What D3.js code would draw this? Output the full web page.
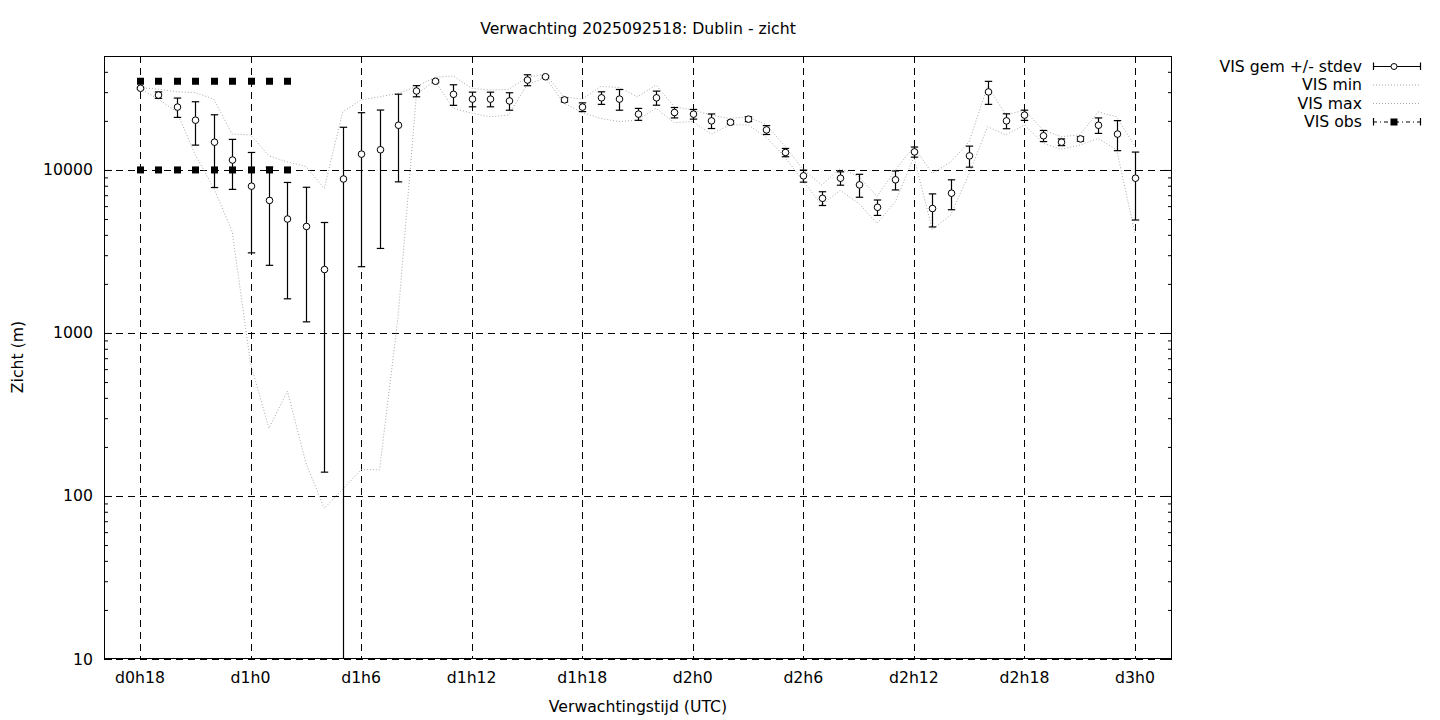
<!DOCTYPE html>
<html><head><meta charset="utf-8">
<script src="https://cdn.jsdelivr.net/npm/d3@7"></script>
<style>body{margin:0;background:#fff}svg{display:block}text{font-family:"DejaVu Sans",sans-serif;fill:#000}</style>
</head><body><svg id="c" width="1440" height="720"></svg>
<script>
const title = "Verwachting 2025092518: Dublin - zicht";
const hours = [18,19,20,21,22,23,24,25,26,27,28,29,30,31,32,33,34,35,36,37,38,39,40,41,42,43,44,45,46,47,48,49,50,51,52,53,54,55,56,57,58,59,60,61,62,63,64,65,66,67,68,69,70,71,72];
const visMean = [31700,28800,24300,20200,14800,11500,7950,6500,5000,4500,2450,8800,12500,13300,18800,30500,35000,29100,27200,27200,26500,35600,37300,26900,24300,27700,27200,22000,27700,22500,22000,20000,19600,20500,17600,12800,9200,6700,8900,8100,5900,8700,12900,5800,7200,12200,30100,20000,21700,16200,14800,15500,18800,16600,8900];
const visStdev = [400,1300,3300,6000,7000,3900,4850,3900,3380,3330,2310,9470,9950,10000,10350,2400,700,4200,2800,2800,3250,2750,600,800,1500,2450,3950,1850,2750,1650,1500,2050,500,700,1100,750,780,650,840,1300,640,1160,920,1330,1500,1800,4850,2100,1560,1270,700,500,2050,3470,3970];
const visMin = [31500,27200,22700,12400,7750,4200,650,260,440,160,84,110,145,145,1240,29000,35300,23900,22300,21200,21700,33200,37000,25700,22500,20700,19800,20200,23900,19500,19800,16600,18900,18900,15800,12000,8500,6100,7500,6250,4700,6400,12000,4300,5300,9500,18400,16400,18900,14600,13400,14200,15600,13300,4100];
const visMax = [32000,31300,30200,29800,27200,16600,16400,12200,11200,10500,7700,22700,26900,28100,29500,32500,37000,37700,31700,30900,31200,37000,38800,28100,27200,32500,32100,28100,33200,24400,23300,21700,20700,21200,18900,14000,10000,8100,10200,9100,6900,10000,13900,9500,11200,14900,32800,21700,23300,17600,16000,16400,22700,21200,13900];
const obsHours = [18,19,20,21,22,23,24,25,26];
const obsUpper = [35000,35000,35000,35000,35000,35000,35000,35000,35000];
const obsLower = [10000,10000,10000,10000,10000,10000,10000,10000,10000];
const xTickHours = [18,24,30,36,42,48,54,60,66,72];
const xTickLabels = ["d0h18","d1h0","d1h6","d1h12","d1h18","d2h0","d2h6","d2h12","d2h18","d3h0"];
const yTickValues = [10,100,1000,10000];
const legendLabels = ["VIS gem +/- stdev","VIS min","VIS max","VIS obs"];

const svg = d3.select("#c");
const L=104, R=1172, T=56, B=659, FS=15.7;
const x = d3.scaleLinear().domain([18,72]).range([140,1135]);
const y = d3.scaleLog().domain([10,50000]).range([B,T]);
const px = h => Math.round(x(h))+0.5;

svg.append("defs").append("clipPath").attr("id","clip").append("rect")
  .attr("x",L).attr("y",T).attr("width",R-L).attr("height",B-T);

// grid
const grid = svg.append("g").attr("stroke","#000").attr("stroke-width",1).attr("stroke-dasharray","7,5");
xTickHours.forEach(h=>grid.append("line").attr("x1",px(h)).attr("x2",px(h)).attr("y1",T).attr("y2",B));
yTickValues.forEach(v=>grid.append("line").attr("x1",L).attr("x2",R).attr("y1",Math.round(y(v))+0.5).attr("y2",Math.round(y(v))+0.5));

// axes (inner ticks)
const minorVals = [];
[10,100,1000,10000].forEach(d=>{for(let k=2;k<=9;k++){const v=d*k; if(v<=50000) minorVals.push(v);}});
const noDomain = g=>g.select(".domain").remove();
svg.append("g").attr("transform",`translate(${L},0)`).call(d3.axisRight(y).tickValues(minorVals).tickSize(4).tickFormat("")).call(noDomain);
svg.append("g").attr("transform",`translate(${R},0)`).call(d3.axisLeft(y).tickValues(minorVals).tickSize(4).tickFormat("")).call(noDomain);
svg.append("g").attr("transform",`translate(${L},0)`).call(d3.axisRight(y).tickValues(yTickValues).tickSize(8).tickFormat("")).call(noDomain);
svg.append("g").attr("transform",`translate(${R},0)`).call(d3.axisLeft(y).tickValues(yTickValues).tickSize(8).tickFormat("")).call(noDomain);

// tick labels
svg.append("g").selectAll("text").data(yTickValues).join("text")
  .attr("x",93).attr("y",d=>y(d)+5.5).attr("text-anchor","end").attr("font-size",FS).text(d=>d);
svg.append("g").selectAll("text").data(xTickHours).join("text")
  .attr("x",d=>x(d)).attr("y",683).attr("text-anchor","middle").attr("font-size",FS).text((d,i)=>xTickLabels[i]);

// frame
svg.append("rect").attr("x",L+0.5).attr("y",T+0.5).attr("width",R-L-1).attr("height",B-T-1)
  .attr("fill","none").attr("stroke","#000").attr("stroke-width",1);

const plot = svg.append("g").attr("clip-path","url(#clip)");
const line = (arr)=>d3.line().x((d,i)=>x(hours[i])).y(d=>y(d))(arr);
plot.append("path").attr("d",line(visMin)).attr("fill","none").attr("stroke","#a8a8a8").attr("stroke-width",1).attr("stroke-dasharray","1,2");
plot.append("path").attr("d",line(visMax)).attr("fill","none").attr("stroke","#a8a8a8").attr("stroke-width",1).attr("stroke-dasharray","1,2");

// error bars
const eb = plot.append("g").attr("stroke","#000").attr("stroke-width",1.2);
hours.forEach((h,i)=>{
  const cx = px(h);
  const hi = visMean[i]+visStdev[i];
  const lo = Math.max(visMean[i]-visStdev[i], 1);
  eb.append("line").attr("x1",cx).attr("x2",cx).attr("y1",y(hi)).attr("y2",y(lo));
  eb.append("line").attr("x1",cx-3.7).attr("x2",cx+3.7).attr("y1",y(hi)).attr("y2",y(hi));
  if (visMean[i]-visStdev[i] > 10) eb.append("line").attr("x1",cx-3.7).attr("x2",cx+3.7).attr("y1",y(lo)).attr("y2",y(lo));
});
plot.append("g").selectAll("circle").data(visMean).join("circle")
  .attr("cx",(d,i)=>px(hours[i])).attr("cy",d=>y(d)).attr("r",3.3)
  .attr("fill","#fff").attr("stroke","#000").attr("stroke-width",1);

// obs
[obsUpper, obsLower].forEach(arr=>{
  plot.append("g").selectAll("rect").data(arr).join("rect")
    .attr("x",(d,i)=>px(obsHours[i])-3.5).attr("y",d=>y(d)-3.5)
    .attr("width",7).attr("height",7).attr("fill","#000");
});

// title & axis labels
svg.append("text").attr("x",638).attr("y",34).attr("text-anchor","middle").attr("font-size",FS).text(title);
svg.append("text").attr("x",638).attr("y",712).attr("text-anchor","middle").attr("font-size",FS).text("Verwachtingstijd (UTC)");
svg.append("text").attr("transform","translate(23,357) rotate(-90)").attr("text-anchor","middle").attr("font-size",FS).text("Zicht (m)");

// legend
const lg = svg.append("g");
const rowsY = [66,84.5,103,121.5];
legendLabels.forEach((t,i)=>{
  lg.append("text").attr("x",1362).attr("y",rowsY[i]+5.5).attr("text-anchor","end").attr("font-size",FS).text(t);
});
const x1=1373, x2=1420, xm=1394;
lg.append("line").attr("x1",x1).attr("x2",x2).attr("y1",rowsY[0]+0.5).attr("y2",rowsY[0]+0.5).attr("stroke","#000").attr("stroke-width",1.2);
[x1,x2].forEach(xx=>lg.append("line").attr("x1",xx+0.5).attr("x2",xx+0.5).attr("y1",rowsY[0]-3.5).attr("y2",rowsY[0]+4).attr("stroke","#000").attr("stroke-width",1.2));
lg.append("circle").attr("cx",xm).attr("cy",rowsY[0]+0.5).attr("r",3).attr("fill","#fff").attr("stroke","#000");
[1,2].forEach(i=>lg.append("line").attr("x1",x1).attr("x2",x2).attr("y1",rowsY[i]+0.5).attr("y2",rowsY[i]+0.5).attr("stroke","#a8a8a8").attr("stroke-dasharray","1,2"));
lg.append("line").attr("x1",x1).attr("x2",x2).attr("y1",rowsY[3]+0.5).attr("y2",rowsY[3]+0.5).attr("stroke","#000").attr("stroke-width",1).attr("stroke-dasharray","4,3,1,3");
[x1,x2].forEach(xx=>lg.append("line").attr("x1",xx+0.5).attr("x2",xx+0.5).attr("y1",rowsY[3]-3.5).attr("y2",rowsY[3]+4).attr("stroke","#000").attr("stroke-width",1.2));
lg.append("rect").attr("x",xm-3.5).attr("y",rowsY[3]-3).attr("width",7).attr("height",7).attr("fill","#000");
</script></body></html>
